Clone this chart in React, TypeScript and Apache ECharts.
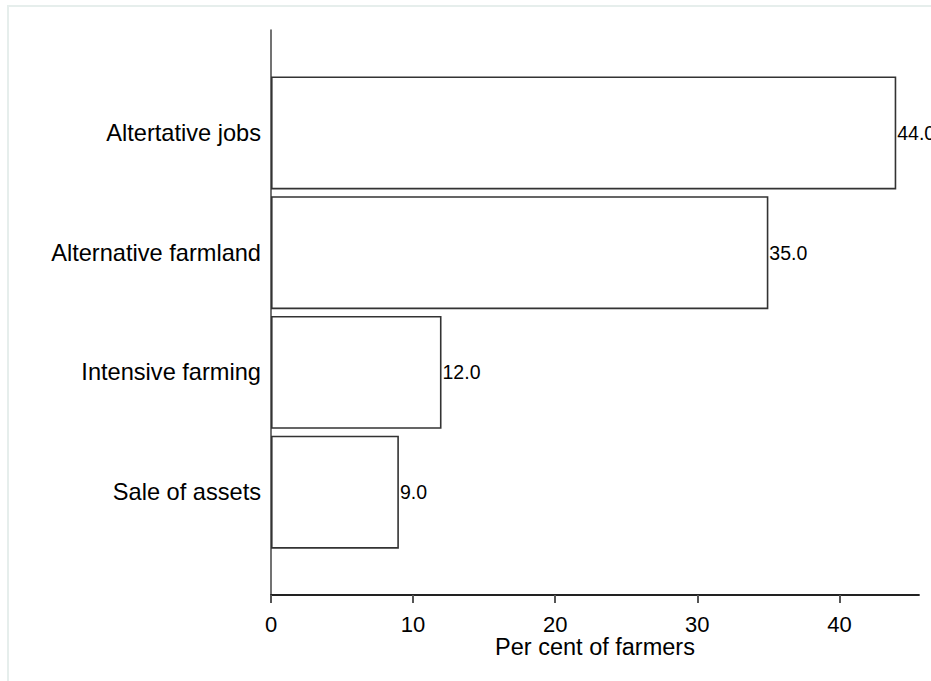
import React, { useEffect, useRef } from "react";
import * as echarts from "echarts";

const categories = ["Altertative jobs", "Alternative farmland", "Intensive farming", "Sale of assets"];
const values = [44.0, 35.0, 12.0, 9.0];
const xTicks = [0, 10, 20, 30, 40];
const xMax = 45.6;
const xTitle = "Per cent of farmers";

const FONT = "'Liberation Sans', Arial, Helvetica, sans-serif";

export default function App() {
  const ref = useRef<HTMLDivElement>(null);
  useEffect(() => {
    if (!ref.current) return;
    const chart = echarts.init(ref.current, null, { renderer: "svg" });
    chart.setOption({
      animation: false,
      backgroundColor: "#ffffff",
      textStyle: { fontFamily: FONT },
      graphic: [
        {
          type: "rect",
          shape: { x: 8, y: 6, width: 1200, height: 1200 },
          style: { fill: "none", stroke: "#e6eeec", lineWidth: 2 },
          silent: true,
        },
      ],
      grid: [
        { left: 271, right: 12, top: 30, bottom: 86 },
        { left: 271, right: 12, top: 73, bottom: 129 },
      ],
      xAxis: [
        {
          type: "value",
          gridIndex: 0,
          min: 0,
          max: xMax,
          interval: 10,
          axisLine: { show: true, lineStyle: { color: "#222", width: 1.8 } },
          axisTick: { show: true, length: 8, customValues: xTicks, lineStyle: { color: "#555", width: 2 } },
          axisLabel: {
            margin: 20,
            fontSize: 22,
            lineHeight: 18,
            color: "#000",
            fontFamily: FONT,
            customValues: xTicks,
            hideOverlap: false,
          },
          splitLine: { show: false },
          name: xTitle,
          nameLocation: "middle",
          nameGap: 42,
          nameMoveOverlap: false,
          nameTextStyle: { fontSize: 23.5, lineHeight: 20, color: "#000", fontFamily: FONT },
        },
        {
          type: "value",
          gridIndex: 1,
          min: 0,
          max: xMax,
          interval: 10,
          show: false,
        },
      ],
      yAxis: [
        {
          type: "value",
          gridIndex: 0,
          min: 0,
          max: 1,
          axisLine: { show: true, lineStyle: { color: "#444", width: 1.5 } },
          axisTick: { show: false },
          axisLabel: { show: false },
          splitLine: { show: false },
        },
        {
          type: "category",
          gridIndex: 1,
          data: categories,
          inverse: true,
          axisLine: { show: false },
          axisTick: { show: false },
          axisLabel: { margin: 10, fontSize: 23.6, color: "#000", fontFamily: FONT },
          splitLine: { show: false },
        },
      ],
      series: [
        {
          type: "bar",
          xAxisIndex: 1,
          yAxisIndex: 1,
          data: values,
          barWidth: 113,
          itemStyle: { color: "#ffffff", borderColor: "#333", borderWidth: 1.6 },
          label: {
            show: true,
            position: "right",
            distance: 1,
            fontSize: 19.5,
            color: "#000",
            fontFamily: FONT,
            formatter: (p: any) => Number(p.value).toFixed(1),
          },
        },
      ],
    });
    return () => chart.dispose();
  }, []);
  return (
    <div
      ref={ref}
      style={{ position: "absolute", left: 0, top: 0, width: 931, height: 681, background: "#fff" }}
    />
  );
}
